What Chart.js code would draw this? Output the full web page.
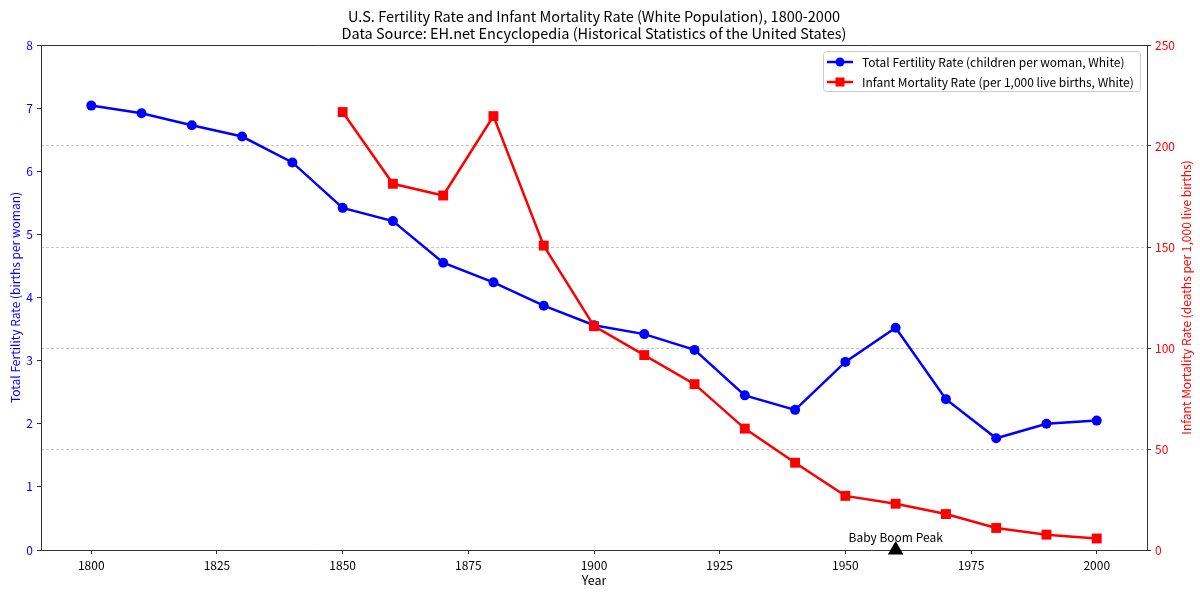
<!DOCTYPE html>
<html>
<head>
<meta charset="utf-8">
<script src="https://cdn.jsdelivr.net/npm/chart.js@4.4.0/dist/chart.umd.min.js"></script>
<style>
  html,body{margin:0;padding:0;background:#fff;}
  #wrap{width:1200px;height:596px;position:relative;}
</style>
</head>
<body>
<div id="wrap"><canvas id="c" width="1200" height="596"></canvas></div>
<script>
const years = [1800,1810,1820,1830,1840,1850,1860,1870,1880,1890,1900,1910,1920,1930,1940,1950,1960,1970,1980,1990,2000];
const tfrValues = [7.04,6.92,6.73,6.55,6.14,5.42,5.21,4.55,4.24,3.87,3.56,3.42,3.17,2.45,2.22,2.98,3.52,2.39,1.77,2.00,2.05];
const imrYears = [1850,1860,1870,1880,1890,1900,1910,1920,1930,1940,1950,1960,1970,1980,1990,2000];
const imrValues = [216.8,181.3,175.5,214.8,150.7,110.8,96.5,82.1,60.1,43.2,26.8,22.9,17.8,10.9,7.6,5.7];
const xTickLabels = [1800,1825,1850,1875,1900,1925,1950,1975,2000];
const tfrTicks = [0,1,2,3,4,5,6,7,8];
const imrTicks = [0,50,100,150,200,250];
const annotationYear = 1960;
const annotationText = 'Baby Boom Peak';
const titleLines = ['U.S. Fertility Rate and Infant Mortality Rate (White Population), 1800-2000','Data Source: EH.net Encyclopedia (Historical Statistics of the United States)'];
const seriesLabels = ['Total Fertility Rate (children per woman, White)','Infant Mortality Rate (per 1,000 live births, White)'];
const xTitle = 'Year';
const yTitle = 'Total Fertility Rate (births per woman)';
const y2Title = 'Infant Mortality Rate (deaths per 1,000 live births)';

const FONT = '"Noto Sans CJK JP", "Noto Sans", sans-serif';

const overlay = {
  id: 'overlay',
  afterDraw(chart) {
    const ctx = chart.ctx;
    const a = chart.chartArea;
    ctx.save();
    // top spine
    ctx.strokeStyle = '#333';
    ctx.lineWidth = 1;
    ctx.beginPath();
    ctx.moveTo(a.left, a.top + 0.5);
    ctx.lineTo(a.right, a.top + 0.5);
    ctx.stroke();
    const cx = (a.left + a.right) / 2;
    // title
    ctx.fillStyle = '#000';
    ctx.font = '14.5px ' + FONT;
    ctx.textAlign = 'center';
    ctx.textBaseline = 'middle';
    ctx.fillText(titleLines[0], cx, 16);
    ctx.fillText(titleLines[1], cx, 33);
    // x title
    ctx.font = '12.5px ' + FONT;
    ctx.fillText(xTitle, cx, 580);
    // y titles
    const cy = (a.top + a.bottom) / 2;
    ctx.save();
    ctx.translate(15, cy);
    ctx.rotate(-Math.PI / 2);
    ctx.fillStyle = 'blue';
    ctx.font = '12px ' + FONT;
    ctx.fillText(yTitle, 0, 0);
    ctx.restore();
    ctx.save();
    ctx.translate(1186, cy);
    ctx.rotate(-Math.PI / 2);
    ctx.fillStyle = 'red';
    ctx.font = '12px ' + FONT;
    ctx.fillText(y2Title, 0, 0);
    ctx.restore();
    // annotation text
    const xs = chart.scales.x;
    const ys = chart.scales.y;
    ctx.fillStyle = '#000';
    ctx.font = '12px ' + FONT;
    ctx.fillText(annotationText, xs.getPixelForValue(annotationYear), ys.getPixelForValue(0) - 13);
    // legend
    const bx = 823, by = 51, bw = 317, bh = 40;
    ctx.fillStyle = 'rgba(255,255,255,0.85)';
    ctx.strokeStyle = '#cccccc';
    ctx.lineWidth = 1;
    ctx.beginPath();
    ctx.roundRect(bx + 0.5, by + 0.5, bw, bh, 3);
    ctx.fill();
    ctx.stroke();
    const ds = chart.data.datasets;
    [0, 1].forEach((i) => {
      const d = ds[i];
      const ry = by + 11 + i * 20;
      ctx.strokeStyle = d.borderColor;
      ctx.lineWidth = 2.5;
      ctx.beginPath();
      ctx.moveTo(bx + 4, ry);
      ctx.lineTo(bx + 30, ry);
      ctx.stroke();
      ctx.fillStyle = d.borderColor;
      if (d.pointStyle === 'circle') {
        ctx.beginPath();
        ctx.arc(bx + 17, ry, 4.5, 0, Math.PI * 2);
        ctx.fill();
      } else {
        ctx.fillRect(bx + 12.5, ry - 4.5, 9, 9);
      }
      ctx.fillStyle = '#000';
      ctx.textAlign = 'left';
      ctx.font = '12px ' + FONT;
      ctx.fillText(d.label, bx + 39, ry);
    });
    ctx.restore();
  }
};

const chart = new Chart(document.getElementById('c'), {
  type: 'line',
  data: {
    datasets: [
      {
        label: seriesLabels[0],
        data: years.map((y, i) => ({x: y, y: tfrValues[i]})),
        yAxisID: 'y',
        borderColor: 'blue',
        backgroundColor: 'blue',
        borderWidth: 2.5,
        pointStyle: 'circle',
        pointRadius: 5,
        pointBorderWidth: 0,
        pointBackgroundColor: 'blue',
        tension: 0,
        order: 2
      },
      {
        label: seriesLabels[1],
        data: imrYears.map((y, i) => ({x: y, y: imrValues[i]})),
        yAxisID: 'y2',
        borderColor: 'red',
        backgroundColor: 'red',
        borderWidth: 2.5,
        pointStyle: 'rect',
        pointRadius: 7,
        pointBorderWidth: 0,
        pointBackgroundColor: 'red',
        tension: 0,
        order: 1
      },
      {
        label: 'annotation',
        data: [{x: annotationYear, y: 0}],
        yAxisID: 'y',
        showLine: false,
        pointStyle: 'triangle',
        pointRadius: 9,
        pointBorderWidth: 0,
        pointBackgroundColor: '#000',
        borderColor: '#000',
        clip: false,
        order: 0
      }
    ]
  },
  options: {
    responsive: false,
    animation: false,
    devicePixelRatio: 1,
    layout: {padding: {top: 45, left: 0, right: 0, bottom: 0}},
    plugins: {
      legend: {display: false},
      title: {display: false},
      tooltip: {enabled: false}
    },
    scales: {
      x: {
        type: 'linear',
        position: 'bottom',
        min: 1790,
        max: 2010,
        afterBuildTicks: (s) => { s.ticks = xTickLabels.map(v => ({value: v})); },
        afterFit: (s) => { s.height = 46; },
        ticks: {color: '#000', font: {family: FONT, size: 12}, padding: 4, maxRotation: 0, callback: (v) => String(v)},
        grid: {drawOnChartArea: false, drawTicks: true, tickLength: 4, tickColor: '#333'},
        border: {color: '#333', width: 1}
      },
      y: {
        position: 'left',
        min: 0,
        max: 8,
        afterBuildTicks: (s) => { s.ticks = tfrTicks.map(v => ({value: v})); },
        afterFit: (s) => { s.width = 41; },
        ticks: {color: 'blue', font: {family: FONT, size: 12}, padding: 4},
        grid: {drawOnChartArea: false, drawTicks: true, tickLength: 4, tickColor: '#333'},
        border: {color: '#333', width: 1}
      },
      y2: {
        position: 'right',
        min: 0,
        max: 250,
        afterBuildTicks: (s) => { s.ticks = imrTicks.map(v => ({value: v})); },
        afterFit: (s) => { s.width = 53; },
        ticks: {color: 'red', font: {family: FONT, size: 12}, padding: 4},
        grid: {drawOnChartArea: true, color: '#c8c8c8', lineWidth: 1, drawTicks: true, tickLength: 4, tickColor: '#333', tickBorderDash: [], tickWidth: 1},
        border: {color: '#333', width: 1, dash: [3, 2]}
      }
    }
  },
  plugins: [overlay]
});
</script>
</body>
</html>
